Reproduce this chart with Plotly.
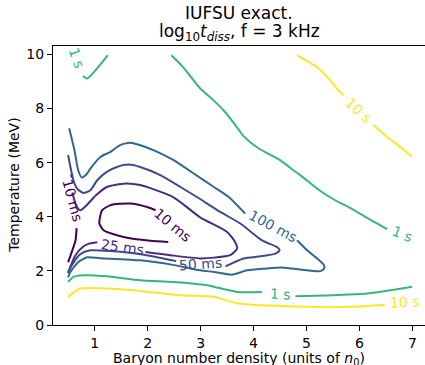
import plotly.graph_objects as go

# contour levels of log10(t_diss) and their viridis colours
level_names = ["10 ms", "25 ms", "50 ms", "100 ms", "1 s", "10 s"]
level_colors = ["#440154", "#472f7d", "#3d4c89", "#31688e", "#35b779", "#fde725"]

# contour paths (None = gap where a label sits)
ms10_x = [2.39, 2.05, 1.55, 1.17, 1.09, 1.11, 1.14, 1.30, 1.67, 1.99, 2.15, None,
          0.56, 0.57, None, 0.66, 0.64, 0.58, 0.50]
ms10_y = [3.07, 3.11, 3.25, 3.50, 3.75, 4.06, 4.24, 4.43, 4.49, 4.36, 4.24, None,
          5.57, 5.45, None, 3.58, 3.13, 2.76, 2.32]

ms25_x = [0.58, 0.65, 0.73, 0.88, 1.03, 1.23, 1.58, 1.86, 2.49, 2.99, 3.50, 3.65,
          3.69, 3.56, 3.25, 2.99, 2.43, 1.96, None, 1.05, 0.88, 0.77, 0.64, 0.54, 0.50]
ms25_y = [4.90, 4.43, 4.24, 4.49, 4.80, 5.10, 5.23, 5.17, 4.72, 3.98, 3.44, 3.07,
          2.83, 2.58, 2.49, 2.46, 2.58, 2.70, None, 3.06, 3.00, 2.87, 2.58, 2.14, 1.91]

ms50_x = [0.50, 0.60, 0.67, 0.79, 0.92, 1.05, 1.23, 1.42, 1.64, 1.86, 2.24, 2.62,
          2.93, 3.37, 3.75, 4.16, 4.44, 4.49, 4.41, 4.13, 3.81, 3.47, None,
          2.54, 1.98, 1.30, 0.92, 0.73, 0.58, 0.50]
ms50_y = [6.28, 5.35, 5.04, 4.88, 4.98, 5.35, 5.66, 5.84, 5.93, 5.84, 5.54, 5.10,
          4.73, 4.18, 3.75, 3.13, 2.88, 2.76, 2.64, 2.54, 2.46, 2.17, None,
          2.36, 2.58, 2.73, 2.76, 2.62, 2.24, 1.95]

ms100_x = [0.52, 0.62, 0.69, 0.76, 0.86, 0.92, 1.11, 1.30, 1.48, 1.64, 1.80, 2.11,
           2.49, 2.87, 3.25, 3.53, 3.84, None, 4.82, 5.01, 5.20, 5.33, 5.33, 5.26,
           4.88, 4.57, 4.25, 3.88, 3.59, 3.25, 2.99, 2.43, 1.86, 1.11, 0.86, 0.69,
           0.54, 0.50]
ms100_y = [7.27, 6.46, 5.72, 5.45, 5.60, 5.78, 6.21, 6.40, 6.65, 6.73, 6.68, 6.46,
           6.09, 5.60, 5.10, 4.73, 4.12, None, 3.13, 2.76, 2.46, 2.21, 2.09, 1.99,
           2.05, 2.12, 2.09, 2.02, 1.86, 1.96, 2.02, 2.24, 2.39, 2.47, 2.50, 2.32,
           1.95, 1.76]

s1_x = [1.25, 0.86, 0.78, None,
        2.45, 2.67, 2.99, 3.24, 3.45, 3.67, 3.81, 4.09, 4.50, 4.75, 4.88, 5.26,
        5.54, 5.83, 6.15, 6.52, None,
        0.50, 0.60, 0.79, 1.23, 1.86, 2.49, 3.12, 3.69, 4.16, None,
        4.79, 5.51, 6.14, 6.99]
s1_y = [9.97, 9.11, 9.20, None,
        9.97, 9.53, 8.75, 8.31, 7.90, 7.35, 6.98, 6.53, 6.09, 5.72, 5.54, 4.95,
        4.61, 4.32, 3.95, 3.54, None,
        1.59, 1.78, 1.84, 1.80, 1.65, 1.59, 1.47, 1.22, 1.22, None,
        1.06, 1.10, 1.16, 1.41]

s10_x = [4.82, 5.23, 5.39, 5.57, 5.70, None, 6.26, 6.52, 6.77, 6.99, None,
         0.50, 0.73, 1.23, 1.86, 2.62, 3.25, 3.69, 5.01, 5.82, 6.48]
s10_y = [9.97, 9.48, 9.17, 8.74, 8.49, None, 7.39, 6.95, 6.58, 6.21, None,
         1.04, 1.35, 1.35, 1.26, 1.10, 1.04, 0.80, 0.67, 0.67, 0.75]

# inline contour labels
label_text = ["10 ms", "10 ms", "25 ms", "50 ms", "100 ms", "1 s", "1 s", "1 s", "10 s", "10 s"]
label_level = [0, 0, 1, 2, 3, 4, 4, 4, 5, 5]
label_x = [2.47, 0.58, 1.52, 3.00, 4.36, 0.66, 6.81, 4.50, 5.98, 6.86]
label_y = [3.69, 4.61, 2.88, 2.24, 3.65, 9.86, 3.36, 1.16, 7.94, 0.85]
label_angle = [40, 75, 8, -4, 28, 70, 22, 3, 42, -3]

x_ticks = [1, 2, 3, 4, 5, 6, 7]
y_ticks = [0, 2, 4, 6, 8, 10]

paths = [(ms10_x, ms10_y), (ms25_x, ms25_y), (ms50_x, ms50_y),
         (ms100_x, ms100_y), (s1_x, s1_y), (s10_x, s10_y)]

font = "DejaVu Sans"
fig = go.Figure()

for (px, py), name, col in zip(paths, level_names, level_colors):
    fig.add_trace(go.Scatter(x=px, y=py, mode="lines", name=name,
                             line=dict(color=col, width=2, shape="spline", smoothing=0.6),
                             connectgaps=False, showlegend=False, hoverinfo="skip"))

for txt, lv, lx, ly, ang in zip(label_text, label_level, label_x, label_y, label_angle):
    fig.add_annotation(x=lx, y=ly, text=txt, showarrow=False, textangle=ang,
                       font=dict(family=font, size=14, color=level_colors[lv]))

# two-line title
fig.add_annotation(xref="paper", yref="paper", x=0.5, y=1.117, yanchor="middle",
                   text="IUFSU exact.", showarrow=False,
                   font=dict(family=font, size=17, color="black"))
fig.add_annotation(xref="paper", yref="paper", x=0.5, y=1.05, yanchor="middle",
                   text="log<sub>10</sub><i>t</i><sub><i>diss</i></sub>, f = 3 kHz",
                   showarrow=False, font=dict(family=font, size=17, color="black"))

# axis titles
fig.add_annotation(xref="paper", yref="paper", x=0.5, y=-0.122, yanchor="middle",
                   text="Baryon number density (units of <i>n</i><sub>0</sub>)",
                   showarrow=False, font=dict(family=font, size=14, color="black"))
fig.add_annotation(xref="paper", yref="paper", x=-0.107, y=0.5, xanchor="center",
                   text="Temperature (MeV)", textangle=-90,
                   showarrow=False, font=dict(family=font, size=14, color="black"))

fig.update_xaxes(range=[0.215, 7.235], tickvals=x_ticks,
                 showline=True, linecolor="black", linewidth=1, mirror=True,
                 ticks="outside", ticklen=5, tickcolor="black", showgrid=False,
                 zeroline=False, tickfont=dict(family=font, size=14, color="black"))
fig.update_yaxes(range=[0, 10.31], tickvals=y_ticks,
                 showline=True, linecolor="black", linewidth=1,
                 ticks="outside", ticklen=5, tickcolor="black", showgrid=False,
                 zeroline=False, tickfont=dict(family=font, size=14, color="black"))

fig.update_layout(width=425, height=365, margin=dict(l=53, r=0, t=46, b=40),
                  plot_bgcolor="white", paper_bgcolor="white")

fig.write_html("out.html", config={"displayModeBar": False},
               post_script="document.body.style.margin='0px';")
